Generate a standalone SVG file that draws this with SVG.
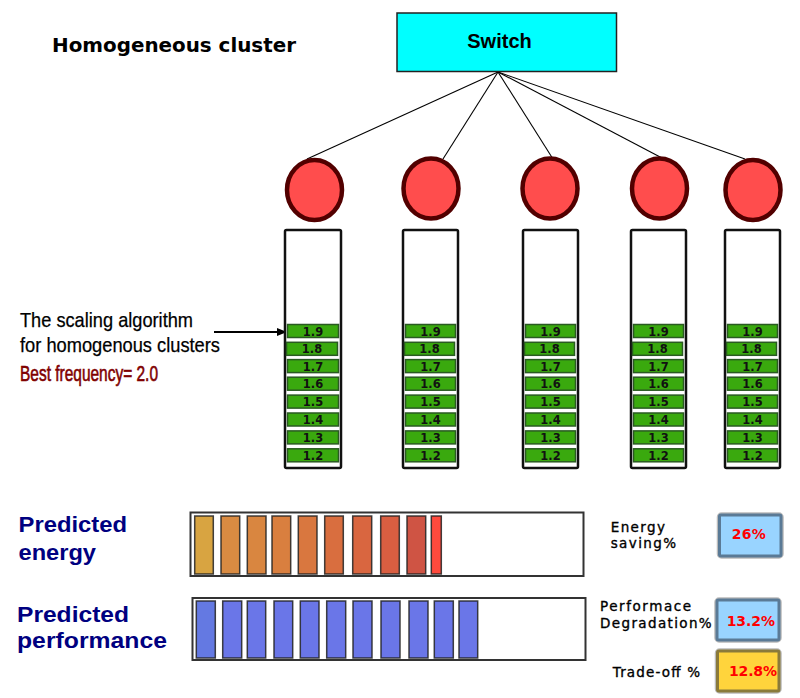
<svg xmlns="http://www.w3.org/2000/svg" width="800" height="698" viewBox="0 0 800 698">
<style>
.col{fill:#fff;stroke:#111;stroke-width:2.5}
.g{fill:#3aa90e;stroke:#2a5a22;stroke-width:1.5}
.gt{font-family:"DejaVu Sans",sans-serif;font-weight:bold;font-size:11.5px;text-anchor:middle;fill:#111}
.node{fill:#ff4d4d;stroke:#520000;stroke-width:4.5}
.conn{stroke:#000;stroke-width:1.1;fill:none}
.lt{font-family:"Liberation Sans",Arial,sans-serif;font-size:21px;fill:#000;stroke:#000;stroke-width:0.25}
.nv{font-family:"Liberation Sans",Arial,sans-serif;font-weight:bold;font-size:22px;fill:#000080}
.eb{stroke:#222;stroke-width:1.5;stroke-opacity:0.85}
.pb{fill:#6a76e8;stroke:#222;stroke-width:1.5;stroke-opacity:0.85}
.rl{font-family:"DejaVu Sans",sans-serif;font-size:13.5px;fill:#000;stroke:#000;stroke-width:0.35}
.val{font-family:"DejaVu Sans",sans-serif;font-weight:bold;font-size:14px;fill:#ff0000}
.bbox{fill:#99d4ff;stroke:#5a7a96;stroke-width:3}
.halo{fill:none;stroke:#bbb;stroke-width:5.5}
</style>
<defs>
<marker id="arr" markerWidth="10" markerHeight="8" refX="9" refY="4" orient="auto" markerUnits="userSpaceOnUse">
<path d="M0,0 L10,4 L0,8 z" fill="#000"/>
</marker>
</defs>

<text x="52" y="52" font-family="DejaVu Sans, sans-serif" font-weight="bold" font-size="19" textLength="244" lengthAdjust="spacingAndGlyphs">Homogeneous cluster</text>

<g id="connectors">
<line class="conn" x1="498" y1="72" x2="307" y2="159"/>
<line class="conn" x1="498" y1="72" x2="443" y2="159"/>
<line class="conn" x1="498" y1="72" x2="553" y2="159"/>
<line class="conn" x1="498" y1="72" x2="662" y2="158"/>
<line class="conn" x1="498" y1="72" x2="745" y2="159"/>
<line x1="214" y1="332" x2="286" y2="332" stroke="#000" stroke-width="2" marker-end="url(#arr)"/>
</g>

<g id="switch">
<rect x="397" y="13" width="219.5" height="58.5" fill="#00ffff" stroke="#222" stroke-width="1.5"/>
<text x="499.5" y="48" font-family="Liberation Sans, Arial, sans-serif" font-weight="bold" font-size="20" text-anchor="middle">Switch</text>
</g>

<g id="node1"><ellipse class="node" cx="314.5" cy="190" rx="27.5" ry="30"/></g>
<g id="node2"><ellipse class="node" cx="431" cy="188.5" rx="27.5" ry="30"/></g>
<g id="node3"><ellipse class="node" cx="550" cy="188.5" rx="27.5" ry="30"/></g>
<g id="node4"><ellipse class="node" cx="659.5" cy="188.5" rx="27.5" ry="30"/></g>
<g id="node5"><ellipse class="node" cx="753" cy="190" rx="27.5" ry="30"/></g>

<g id="stack1">
<rect class="col" x="285" y="230" width="56" height="238" rx="1.5"/>
<rect class="g" x="287.5" y="324.5" width="51" height="13"/><text class="gt" x="313" y="335.5">1.9</text>
<rect class="g" x="286.5" y="342.3" width="51" height="13"/><text class="gt" x="312" y="353.3">1.8</text>
<rect class="g" x="287.5" y="359.6" width="51" height="13"/><text class="gt" x="313" y="370.6">1.7</text>
<rect class="g" x="287.5" y="377.2" width="51" height="13"/><text class="gt" x="313" y="388.2">1.6</text>
<rect class="g" x="287.5" y="395.1" width="51" height="13"/><text class="gt" x="313" y="406.1">1.5</text>
<rect class="g" x="287.5" y="413" width="51" height="13"/><text class="gt" x="313" y="424">1.4</text>
<rect class="g" x="287.5" y="430.9" width="51" height="13"/><text class="gt" x="313" y="441.9">1.3</text>
<rect class="g" x="287.5" y="448.8" width="51" height="13"/><text class="gt" x="313" y="459.8">1.2</text>
</g>

<g id="stack2">
<rect class="col" x="403" y="230" width="55" height="238" rx="1.5"/>
<rect class="g" x="405.5" y="324.5" width="50" height="13"/><text class="gt" x="430.5" y="335.5">1.9</text>
<rect class="g" x="404.5" y="342.3" width="50" height="13"/><text class="gt" x="429.5" y="353.3">1.8</text>
<rect class="g" x="405.5" y="359.6" width="50" height="13"/><text class="gt" x="430.5" y="370.6">1.7</text>
<rect class="g" x="405.5" y="377.2" width="50" height="13"/><text class="gt" x="430.5" y="388.2">1.6</text>
<rect class="g" x="405.5" y="395.1" width="50" height="13"/><text class="gt" x="430.5" y="406.1">1.5</text>
<rect class="g" x="405.5" y="413" width="50" height="13"/><text class="gt" x="430.5" y="424">1.4</text>
<rect class="g" x="405.5" y="430.9" width="50" height="13"/><text class="gt" x="430.5" y="441.9">1.3</text>
<rect class="g" x="405.5" y="448.8" width="50" height="13"/><text class="gt" x="430.5" y="459.8">1.2</text>
</g>

<g id="stack3">
<rect class="col" x="523" y="230" width="55" height="238" rx="1.5"/>
<rect class="g" x="525.5" y="324.5" width="50" height="13"/><text class="gt" x="550.5" y="335.5">1.9</text>
<rect class="g" x="524.5" y="342.3" width="50" height="13"/><text class="gt" x="549.5" y="353.3">1.8</text>
<rect class="g" x="525.5" y="359.6" width="50" height="13"/><text class="gt" x="550.5" y="370.6">1.7</text>
<rect class="g" x="525.5" y="377.2" width="50" height="13"/><text class="gt" x="550.5" y="388.2">1.6</text>
<rect class="g" x="525.5" y="395.1" width="50" height="13"/><text class="gt" x="550.5" y="406.1">1.5</text>
<rect class="g" x="525.5" y="413" width="50" height="13"/><text class="gt" x="550.5" y="424">1.4</text>
<rect class="g" x="525.5" y="430.9" width="50" height="13"/><text class="gt" x="550.5" y="441.9">1.3</text>
<rect class="g" x="525.5" y="448.8" width="50" height="13"/><text class="gt" x="550.5" y="459.8">1.2</text>
</g>

<g id="stack4">
<rect class="col" x="631" y="230" width="55" height="238" rx="1.5"/>
<rect class="g" x="633.5" y="324.5" width="50" height="13"/><text class="gt" x="658.5" y="335.5">1.9</text>
<rect class="g" x="632.5" y="342.3" width="50" height="13"/><text class="gt" x="657.5" y="353.3">1.8</text>
<rect class="g" x="633.5" y="359.6" width="50" height="13"/><text class="gt" x="658.5" y="370.6">1.7</text>
<rect class="g" x="633.5" y="377.2" width="50" height="13"/><text class="gt" x="658.5" y="388.2">1.6</text>
<rect class="g" x="633.5" y="395.1" width="50" height="13"/><text class="gt" x="658.5" y="406.1">1.5</text>
<rect class="g" x="633.5" y="413" width="50" height="13"/><text class="gt" x="658.5" y="424">1.4</text>
<rect class="g" x="633.5" y="430.9" width="50" height="13"/><text class="gt" x="658.5" y="441.9">1.3</text>
<rect class="g" x="633.5" y="448.8" width="50" height="13"/><text class="gt" x="658.5" y="459.8">1.2</text>
</g>

<g id="stack5">
<rect class="col" x="725" y="230" width="55" height="238" rx="1.5"/>
<rect class="g" x="727.5" y="324.5" width="50" height="13"/><text class="gt" x="752.5" y="335.5">1.9</text>
<rect class="g" x="726.5" y="342.3" width="50" height="13"/><text class="gt" x="751.5" y="353.3">1.8</text>
<rect class="g" x="727.5" y="359.6" width="50" height="13"/><text class="gt" x="752.5" y="370.6">1.7</text>
<rect class="g" x="727.5" y="377.2" width="50" height="13"/><text class="gt" x="752.5" y="388.2">1.6</text>
<rect class="g" x="727.5" y="395.1" width="50" height="13"/><text class="gt" x="752.5" y="406.1">1.5</text>
<rect class="g" x="727.5" y="413" width="50" height="13"/><text class="gt" x="752.5" y="424">1.4</text>
<rect class="g" x="727.5" y="430.9" width="50" height="13"/><text class="gt" x="752.5" y="441.9">1.3</text>
<rect class="g" x="727.5" y="448.8" width="50" height="13"/><text class="gt" x="752.5" y="459.8">1.2</text>
</g>

<g id="algorithm-label">
<text class="lt" x="20" y="327" textLength="173" lengthAdjust="spacingAndGlyphs">The scaling algorithm</text>
<text class="lt" x="20" y="352" textLength="200" lengthAdjust="spacingAndGlyphs">for homogenous clusters</text>
<text class="lt" x="20" y="380.5" style="fill:#800000;stroke:#800000;stroke-width:0.6;font-size:22px" textLength="138" lengthAdjust="spacingAndGlyphs">Best frequency= 2.0</text>
</g>

<g id="energy-label">
<text class="nv" x="18.5" y="532" textLength="108.5" lengthAdjust="spacingAndGlyphs">Predicted</text>
<text class="nv" x="18.5" y="560" textLength="77.5" lengthAdjust="spacingAndGlyphs">energy</text>
</g>
<g id="performance-label">
<text class="nv" x="17" y="621.5" textLength="112" lengthAdjust="spacingAndGlyphs">Predicted</text>
<text class="nv" x="17" y="647.5" textLength="150" lengthAdjust="spacingAndGlyphs">performance</text>
</g>

<g id="energy-bar">
<rect x="190.5" y="512.5" width="393" height="63.5" fill="#fff" stroke="#333" stroke-width="2"/>
<rect class="eb" x="194.7" y="516" width="18.6" height="58" fill="#d8a441"/>
<rect class="eb" x="221" y="516" width="18.7" height="58" fill="#d98b42"/>
<rect class="eb" x="247.3" y="516" width="18.7" height="58" fill="#d98640"/>
<rect class="eb" x="272" y="516" width="18.7" height="58" fill="#d97f3f"/>
<rect class="eb" x="298.3" y="516" width="18.7" height="58" fill="#d9773f"/>
<rect class="eb" x="324.7" y="516" width="18.6" height="58" fill="#d96e3f"/>
<rect class="eb" x="352.7" y="516" width="19" height="58" fill="#d96640"/>
<rect class="eb" x="380.7" y="516" width="18.6" height="58" fill="#d95e41"/>
<rect class="eb" x="407" y="516" width="18.7" height="58" fill="#cf5444"/>
<rect class="eb" x="431.3" y="516" width="10" height="58" fill="#ff4a3d"/>
</g>

<g id="performance-bar">
<rect x="192.5" y="598" width="393" height="62" fill="#fff" stroke="#333" stroke-width="2"/>
<rect class="pb" x="196.3" y="601" width="19" height="57" style="fill:#6479e2"/>
<rect class="pb" x="222.7" y="601" width="19" height="57"/>
<rect class="pb" x="247.3" y="601" width="18.4" height="57"/>
<rect class="pb" x="274" y="601" width="18.7" height="57"/>
<rect class="pb" x="300.3" y="601" width="18.7" height="57"/>
<rect class="pb" x="326.7" y="601" width="19" height="57"/>
<rect class="pb" x="353" y="601" width="19" height="57"/>
<rect class="pb" x="381" y="601" width="19" height="57"/>
<rect class="pb" x="409" y="601" width="19" height="57"/>
<rect class="pb" x="434.3" y="601" width="19" height="57"/>
<rect class="pb" x="459" y="601" width="18.7" height="57"/>
</g>

<g id="energy-saving">
<text class="rl" x="610.7" y="532" textLength="54.3" lengthAdjust="spacing">Energy</text>
<text class="rl" x="610.7" y="548" textLength="65.3" lengthAdjust="spacing">saving%</text>
<rect class="halo" x="719.5" y="515" width="61.5" height="41" rx="2"/>
<rect class="bbox" x="719.5" y="515" width="61.5" height="41" rx="1.5"/>
<text class="val" x="731.7" y="539" textLength="34" lengthAdjust="spacing">26%</text>
</g>

<g id="performance-degradation">
<text class="rl" x="600" y="610.7" textLength="91" lengthAdjust="spacing">Performace</text>
<text class="rl" x="600" y="627.7" textLength="111.7" lengthAdjust="spacing">Degradation%</text>
<rect class="halo" x="717" y="600" width="62" height="40" rx="2"/>
<rect class="bbox" x="717" y="600" width="62" height="40" rx="1.5"/>
<text class="val" x="726.7" y="626" textLength="48.3" lengthAdjust="spacing">13.2%</text>
</g>

<g id="trade-off">
<text class="rl" x="612.7" y="676.7" textLength="87.3" lengthAdjust="spacing">Trade-off %</text>
<rect class="halo" x="717.5" y="651" width="61.5" height="40" rx="2"/>
<rect x="717.5" y="651" width="61.5" height="40" rx="1.5" fill="#ffd43c" stroke="#8a7a3a" stroke-width="3"/>
<text class="val" x="729" y="676" textLength="48" lengthAdjust="spacing">12.8%</text>
</g>
</svg>
